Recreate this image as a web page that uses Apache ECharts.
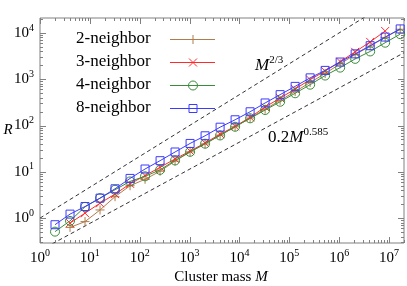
<!DOCTYPE html>
<html><head><meta charset="utf-8">
<script src="https://cdn.jsdelivr.net/npm/echarts@6/dist/echarts.min.js"></script>
<style>html,body{margin:0;padding:0;background:#fff}#c{width:407px;height:286px}</style>
</head><body><div id="c"></div>
<script>
// ---- data ----
const mass = [2,4,8,16,32,64,128,256,512,1024,2048,4096,8192,16384,32768,65536,131072,262144,524288,1048576,2097152,4194304,8388608,16777216];
const r2 = [null,0.63,0.84,1.5,2.9,5.0,6.9,10.3,17,27,40,62,94,145,225,350,540,850,1330,2150,3400,5200,8000,12000];
const r3 = [null,0.78,1.28,2.1,3.3,5.5,8.3,12.5,19,28,42,65,96,150,251,391,614,980,1500,2400,3900,6400,11000,null];
const r4 = [0.51,0.87,1.75,2.7,4.1,6.2,8.0,11,17.6,27,40.5,61,94,143,216,326,497,762,1200,1780,2750,3980,6150,9400];
const r8 = [0.72,1.22,1.78,2.7,4.3,7.2,11.5,17.4,26.8,41,60,92,133,198,307,464,700,1070,1550,2350,3530,5300,8150,12200];
const seriesNames = ['2-neighbor','3-neighbor','4-neighbor','8-neighbor'];
const refSteep = [[1,1],[2e7,73700]];     // M^(2/3)
const refShallow = [[1,0.2],[2e7,3730]];  // 0.2 M^0.585
const xTickExps = [0,1,2,3,4,5,6,7];
const yTickExps = [-1,0,1,2,3,4];

// ---- layout / style ----
const FONT = 'Liberation Serif';
const X_MIN = 1, X_MAX = 2e7, Y_MIN = 0.29, Y_MAX = 2.1e4;
const TICK = '#808080';
const C = ['#b07c4c','#ff2b2b','#3a8c3a','#3b3bff'];
const SYM = ['path://M5,0L5,10M0,5L10,5','path://M0,0L10,10M10,0L0,10','circle','rect'];
const SYMSIZE = [9,8,9,8];

function pairs(arr){ const out=[]; arr.forEach((v,i)=>{ if(v!=null) out.push([mass[i],v]); }); return out; }
function isPow10(v){ const l=Math.log10(v); return Math.abs(l-Math.round(l))<1e-6; }
function labelFmt(v){ if(!isPow10(v)) return ''; return '{n|10}{s|'+Math.round(Math.log10(v))+'}'; }

const xTickVals = [], yTickVals = [];
xTickExps.forEach(e=>{ for(let k=1;k<=9;k++){ const v=k*Math.pow(10,e); if(v>=X_MIN && v<=X_MAX) xTickVals.push([v,1]); } });
yTickExps.forEach(e=>{ for(let k=1;k<=9;k++){ const v=+(k*Math.pow(10,e)).toPrecision(6); if(v>=Y_MIN && v<=Y_MAX) yTickVals.push([1,v]); } });

function px(x){ return Math.round(x)+0.5; }
function xTickItem(params, api){
  const v = api.value(0); const len = isPow10(v)?6:3;
  const b = api.coord([v, Y_MIN]), t = api.coord([v, Y_MAX]);
  const x = px(b[0]);
  return {type:'group', children:[
    {type:'line', shape:{x1:x,y1:b[1],x2:x,y2:b[1]-len}, style:{stroke:TICK,lineWidth:1}},
    {type:'line', shape:{x1:x,y1:t[1],x2:x,y2:t[1]+len}, style:{stroke:TICK,lineWidth:1}}
  ]};
}
function yTickItem(params, api){
  const v = api.value(1); const len = isPow10(v)?6:3;
  const l = api.coord([X_MIN, v]), r = api.coord([X_MAX, v]);
  const y = px(l[1]);
  return {type:'group', children:[
    {type:'line', shape:{x1:l[0],y1:y,x2:l[0]+len,y2:y}, style:{stroke:TICK,lineWidth:1}},
    {type:'line', shape:{x1:r[0],y1:y,x2:r[0]-len,y2:y}, style:{stroke:TICK,lineWidth:1}}
  ]};
}

const labelRich = {
  n:{fontFamily:FONT,fontSize:15,color:'#000'},
  s:{fontFamily:FONT,fontSize:10,color:'#000',padding:[0,0,10,0]}
};

const dataSeries = [r2,r3,r4,r8].map((arr,i)=>({
  name: seriesNames[i], type:'line', data: pairs(arr),
  symbol: SYM[i], symbolSize: SYMSIZE[i],
  lineStyle:{color:C[i], width:1},
  itemStyle:{color:'rgba(0,0,0,0)', borderColor:C[i], borderWidth:1},
  emphasis:{disabled:true}, z: 3+i
}));

const refStyle = {type:'line', data:null, symbol:'none', silent:true, clip:true,
  lineStyle:{color:'#333', width:1, type:[4,3]}, z:2, emphasis:{disabled:true}};

// legend key drawn as top-level graphic elements (text + line + marker)
const LEG_X = 76, LEG_Y0 = 39, LEG_DY = 23, KEY_X1 = 170, KEY_X2 = 215;
function legendMarker(i, cx, cy){
  const s = {stroke:C[i], fill:'none', lineWidth:1};
  const h = SYMSIZE[i]/2;
  if(i===0) return [{type:'line',shape:{x1:cx,y1:cy-h,x2:cx,y2:cy+h},style:s},{type:'line',shape:{x1:cx-h,y1:cy,x2:cx+h,y2:cy},style:s}];
  if(i===1) return [{type:'line',shape:{x1:cx-h,y1:cy-h,x2:cx+h,y2:cy+h},style:s},{type:'line',shape:{x1:cx+h,y1:cy-h,x2:cx-h,y2:cy+h},style:s}];
  if(i===2) return [{type:'circle',shape:{cx:cx,cy:cy,r:h},style:s}];
  return [{type:'rect',shape:{x:cx-h,y:cy-h,width:2*h,height:2*h},style:s}];
}
let legendGraphics = [];
seriesNames.forEach((nm,i)=>{
  const y = LEG_Y0 + i*LEG_DY;
  const cx = (KEY_X1+KEY_X2)/2;
  legendGraphics.push({type:'text', x:LEG_X, y:y, z:20,
    style:{text:'{n|'+nm+'}', align:'left', verticalAlign:'middle',
      rich:{n:{fontFamily:FONT, fontSize:17, fontStyle:'normal', fontWeight:'normal', color:'#000'}}}});
  legendGraphics.push({type:'line', shape:{x1:KEY_X1,y1:y+0.5,x2:KEY_X2,y2:y+0.5}, style:{stroke:C[i], lineWidth:1}});
  legendGraphics = legendGraphics.concat(legendMarker(i, cx+0.5, y+0.5));
});

const chart = echarts.init(document.getElementById('c'), null, {renderer:'canvas'});
chart.setOption({
  animation:false,
  backgroundColor:'#fff',
  textStyle:{fontFamily:FONT},
  grid:{left:40, right:3, top:18, bottom:43, show:true, borderColor:'#808080', borderWidth:1, backgroundColor:'transparent'},
  xAxis:{type:'log', logBase:10, min:X_MIN, max:X_MAX,
    axisLine:{show:false}, axisTick:{show:false}, splitLine:{show:false}, minorTick:{show:false},
    axisLabel:{formatter:labelFmt, margin:5, rich:labelRich, showMinLabel:true, showMaxLabel:true, hideOverlap:false}},
  yAxis:{type:'log', logBase:10, min:Y_MIN, max:Y_MAX,
    axisLine:{show:false}, axisTick:{show:false}, splitLine:{show:false}, minorTick:{show:false},
    axisLabel:{formatter:labelFmt, margin:6, rich:labelRich, hideOverlap:false}},
  legend:{show:false, data:seriesNames},
  graphic:[
    {type:'text', x:8, y:130, style:{text:'{i|R}', align:'center', verticalAlign:'middle',
      rich:{i:{fontFamily:FONT,fontSize:15,fontStyle:'italic',color:'#000'}}}},
    {type:'text', x:221, y:277, style:{text:'{n|Cluster mass }{i|M}', align:'center', verticalAlign:'middle',
      rich:{n:{fontFamily:FONT,fontSize:15,color:'#000'}, i:{fontFamily:FONT,fontSize:15,fontStyle:'italic',color:'#000'}}}},
    {type:'text', x:255, y:66, style:{text:'{i|M}{s|2/3}', align:'left', verticalAlign:'middle',
      rich:{i:{fontFamily:FONT,fontSize:17,fontStyle:'italic',color:'#000'}, s:{fontFamily:FONT,fontSize:11,color:'#000',padding:[0,0,11,0]}}}},
    {type:'text', x:268, y:138, style:{text:'{n|0.2}{i|M}{s|0.585}', align:'left', verticalAlign:'middle',
      rich:{n:{fontFamily:FONT,fontSize:17,color:'#000'}, i:{fontFamily:FONT,fontSize:17,fontStyle:'italic',color:'#000'}, s:{fontFamily:FONT,fontSize:11,color:'#000',padding:[0,0,11,0]}}}}
  ].concat(legendGraphics),
  series:[
    Object.assign({}, refStyle, {name:'refSteep', data:refSteep}),
    Object.assign({}, refStyle, {name:'refShallow', data:refShallow}),
    {type:'custom', name:'xticks', data:xTickVals, renderItem:xTickItem, silent:true, z:10},
    {type:'custom', name:'yticks', data:yTickVals, renderItem:yTickItem, silent:true, z:10}
  ].concat(dataSeries)
});
</script></body></html>
